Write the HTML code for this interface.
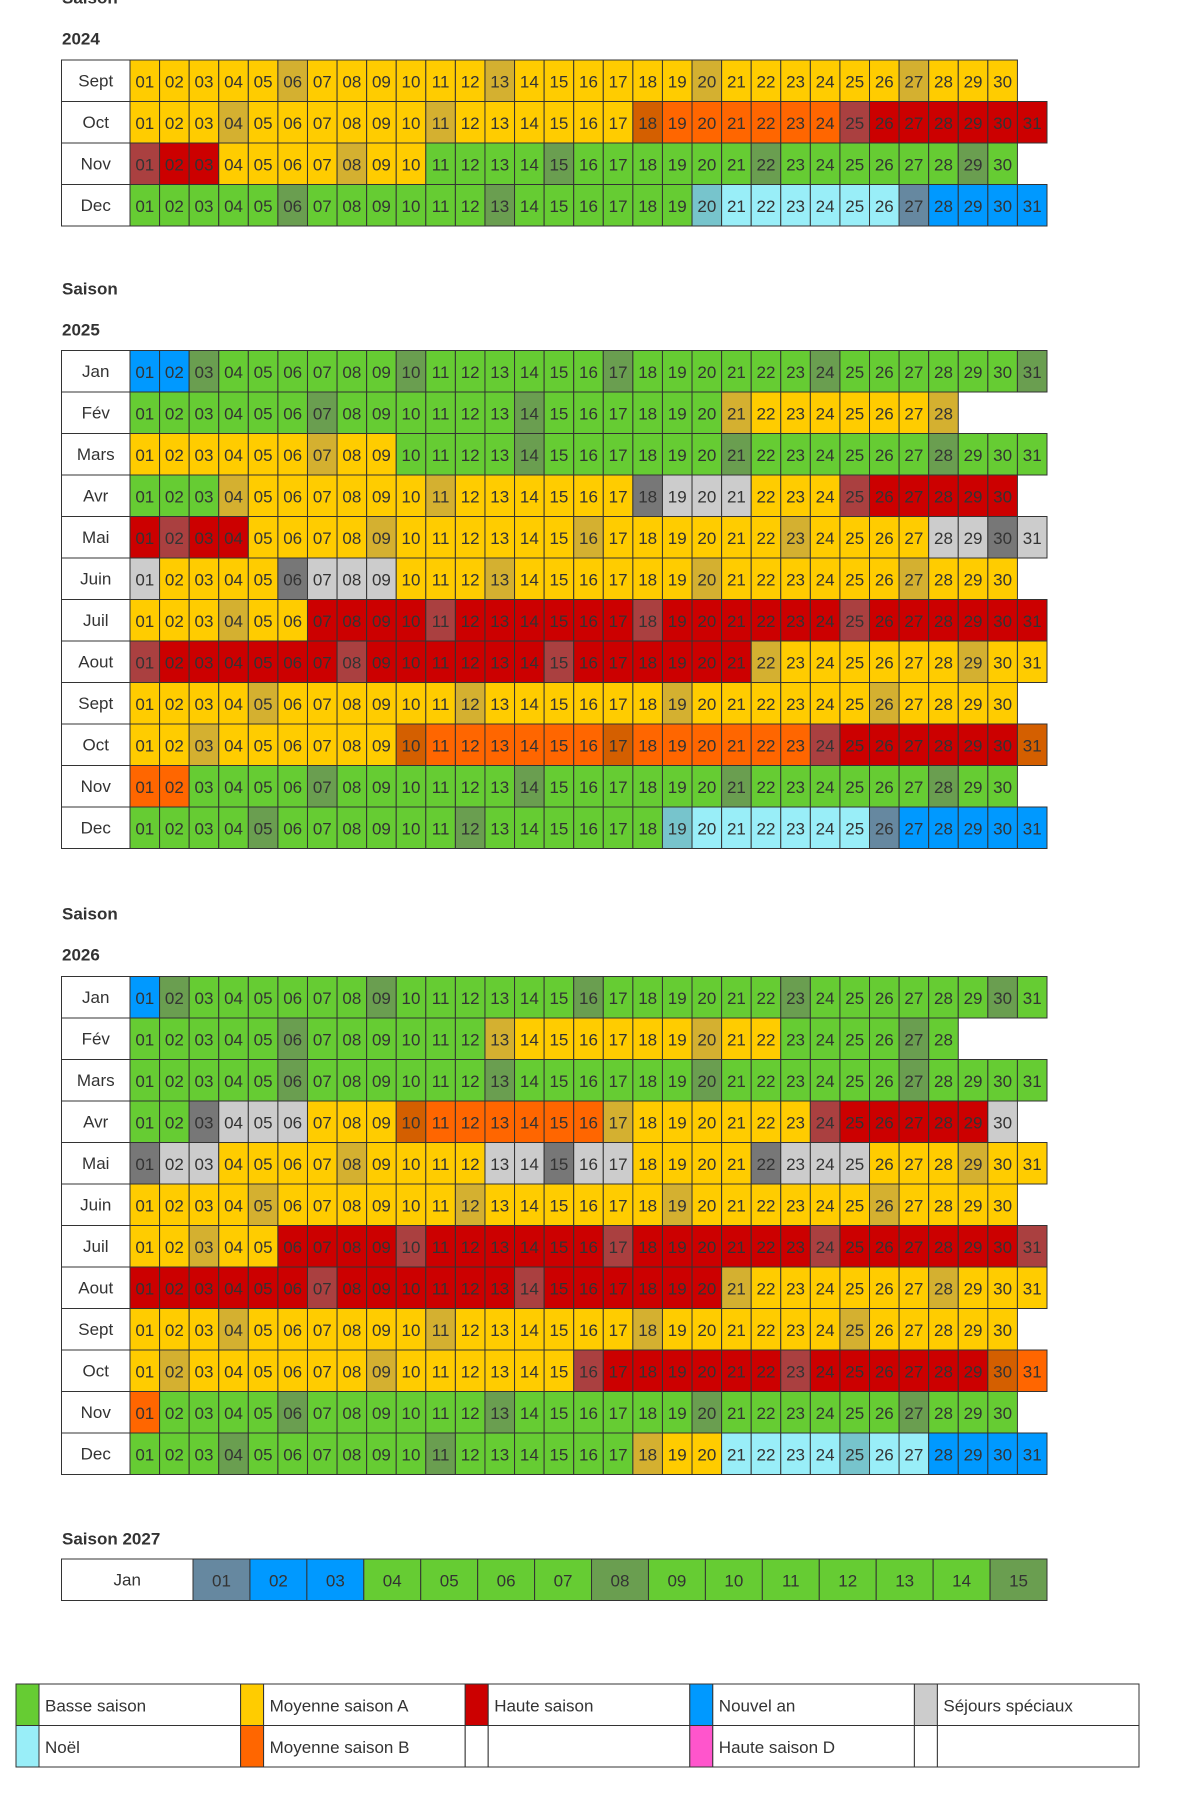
<!DOCTYPE html>
<html><head><meta charset="utf-8"><title>Saisons</title>
<style>
html,body{margin:0;padding:0;background:#fff;}
svg{display:block;font-family:"Liberation Sans",Arial,sans-serif;}
</style></head>
<body>
<svg id="cal" width="1200" height="1801" viewBox="0 0 1200 1801" xmlns="http://www.w3.org/2000/svg"></svg>
<script>
// ---- data: run-length season codes per month (g basse, y moyenne A, o moyenne B, r haute, b nouvel an, c noel, s sejours speciaux)
const monthNames = ["Jan","Fév","Mars","Avr","Mai","Juin","Juil","Aout","Sept","Oct","Nov","Dec"];
const months2024 = [8,9,10,11];
const codes2024 = ["y30","y17o7r7","r3y7g20","g19c7b5"];
const months2025 = [0,1,2,3,4,5,6,7,8,9,10,11];
const codes2025 = ["b2g29","g20y8","y9g22","g3y14s4y3r6","r4y23s4","s1y4s4y21","y6r25","r21y10","y30","y9o14r7o1","o2g28","g18c7b6"];
const months2026 = [0,1,2,3,4,5,6,7,8,9,10,11];
const codes2026 = ["b1g30","g12y10g6","g31","g2s4y3o7y7r6s1","s3y9s5y4s4y6","y30","y5r26","r20y11","y30","y15r14o2","o1g29","g17y3c7b4"];
const months2027 = [0];
const codes2027 = ["b3g12"];
const legendLabels = [["Basse saison","Moyenne saison A","Haute saison","Nouvel an","Séjours spéciaux"],["Noël","Moyenne saison B","","Haute saison D",""]];
const legendCodes = [["g","y","r","b","s"],["c","o","","p",""]];

const COL = {g:"#66cc33",y:"#ffcc00",o:"#ff6600",r:"#cc0000",b:"#0099ff",c:"#99eef8",s:"#cccccc",p:"#ff55cc","":"#ffffff"};
const DARK = {g:"#6a9e50",y:"#d4b030",o:"#d45f00",r:"#aa4040",b:"#6688a0",c:"#77c4cc",s:"#777777",p:"#cc44aa"};

const svg = document.getElementById('cal');
const NS = "http://www.w3.org/2000/svg";
function mk(tag, attrs){const e=document.createElementNS(NS,tag);for(const k in attrs)e.setAttribute(k,attrs[k]);svg.appendChild(e);return e;}
function expand(s){const out=[];const re=/([a-z])(\d+)/g;let m;while((m=re.exec(s))){for(let i=0;i<+m[2];i++)out.push(m[1]);}return out;}
function txt(x,y,str,opts){const t=mk('text',Object.assign({x:x,y:y,'font-size':17,fill:'#333','dominant-baseline':'central'},opts||{}));t.textContent=str;return t;}

const LX=61.5, LW=68.5, CX=130, CW=(1047-130)/31, RH=41.5;

function header(label,y){
  const t=txt(62,y,label,{'font-weight':'bold'});
  
  
}

function drawTable(year, months, codes, top){
  months.forEach((mi,ri)=>{
    const y=top+ri*RH;
    const lab=mk('rect',{x:LX,y:y,width:LW,height:RH,fill:'#fff',stroke:'#333','stroke-width':1});
    
    
    const lt=txt(LX+LW/2,y+RH/2,monthNames[mi],{'text-anchor':'middle'});
    
    
    const days=expand(codes[ri]);
    days.forEach((c,di)=>{
      const d=di+1;
      const fri=new Date(year,mi,d).getDay()===5;
      const x=CX+di*CW;
      const r=mk('rect',{x:x,y:y,width:CW,height:RH,fill:fri?DARK[c]:COL[c],stroke:'#333','stroke-width':1});
      
      
      const t=txt(x+CW/2,y+RH/2+1,String(d).padStart(2,'0'),{'text-anchor':'middle'});
      
      
    });
  });
}

header("Saison",-2); header("2024",39);
drawTable(2024,months2024,codes2024,60);
header("Saison",289); header("2025",330);
drawTable(2025,months2025,codes2025,350.5);
header("Saison",914); header("2026",955);
drawTable(2026,months2026,codes2026,976.5);
header("Saison 2027",1539);

// 2027 row
(function(){
  const y=1559, lx=61.5, lw=131.5, cx=193, cw=(1047-193)/15;
  const lab=mk('rect',{x:lx,y:y,width:lw,height:RH,fill:'#fff',stroke:'#333','stroke-width':1});
  
  
  const lt=txt(lx+lw/2,y+RH/2,monthNames[months2027[0]],{'text-anchor':'middle'});
  
  
  expand(codes2027[0]).forEach((c,di)=>{
    const d=di+1;
    const fri=new Date(2027,months2027[0],d).getDay()===5;
    const x=cx+di*cw;
    const r=mk('rect',{x:x,y:y,width:cw,height:RH,fill:fri?DARK[c]:COL[c],stroke:'#333','stroke-width':1});
    
    
    const t=txt(x+cw/2,y+RH/2+1,String(d).padStart(2,'0'),{'text-anchor':'middle'});
    
    
  });
})();

// legend
(function(){
  const x0=16, gw=(1139-16)/5, sw=23, y0=1684, rh=41.5;
  legendLabels.forEach((row,ri)=>{
    row.forEach((lab,ci)=>{
      const x=x0+ci*gw, y=y0+ri*rh;
      const s=mk('rect',{x:x,y:y,width:sw,height:rh,fill:COL[legendCodes[ri][ci]],stroke:'#333','stroke-width':1});
      
      
      const b=mk('rect',{x:x+sw,y:y,width:gw-sw,height:rh,fill:'#fff',stroke:'#333','stroke-width':1});
      
      
      if(lab){
        const t=txt(x+sw+6,y+rh/2+1,lab,{});
        
        
      }
    });
  });
})();
</script>
</body></html>
